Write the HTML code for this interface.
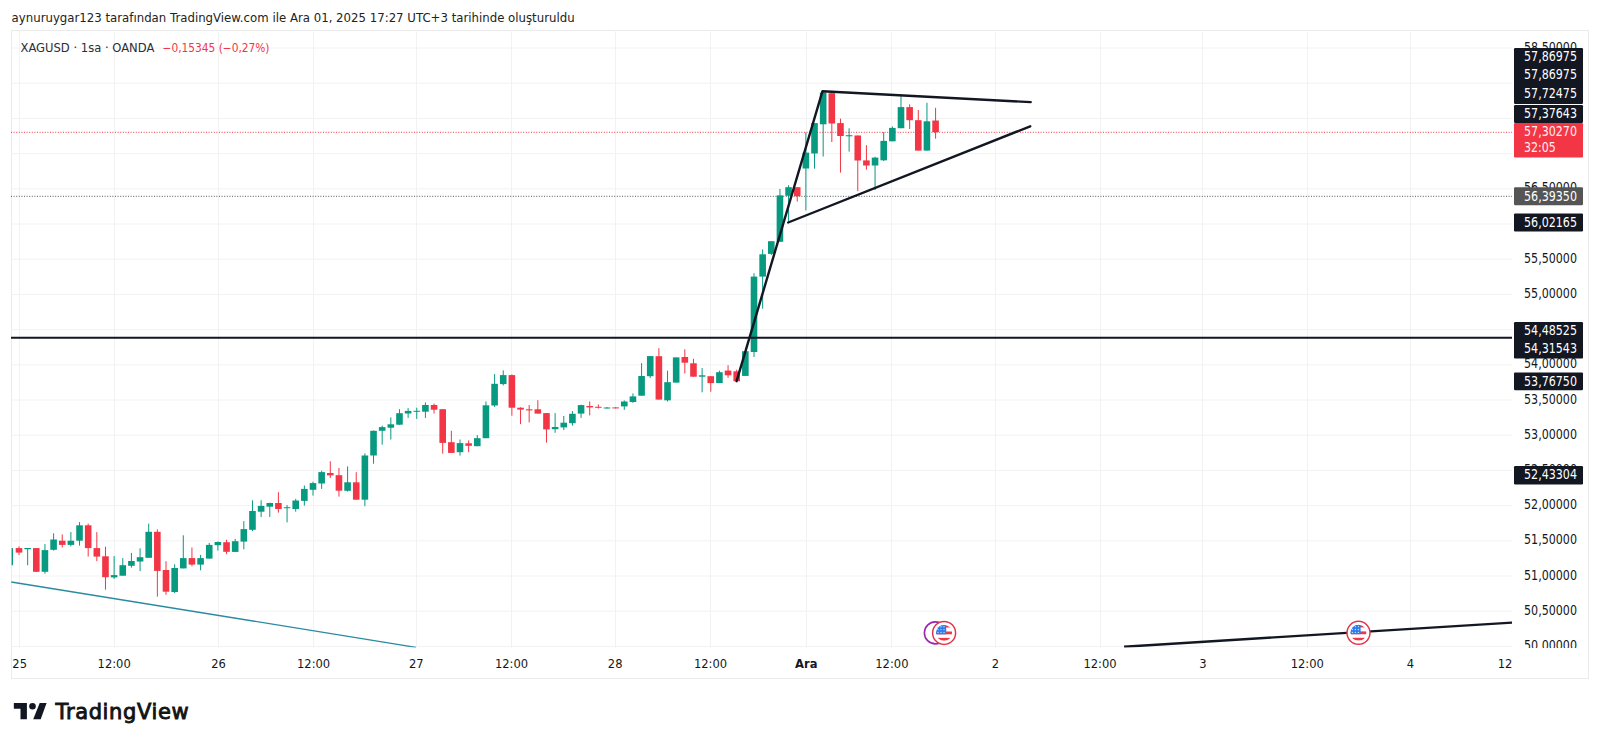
<!DOCTYPE html>
<html><head><meta charset="utf-8"><title>XAGUSD</title>
<style>
html,body{margin:0;padding:0;background:#ffffff;}
body{width:1600px;height:745px;overflow:hidden;position:relative;}
svg{position:absolute;left:0;top:0;}
text{font-family:"Liberation Sans",Arial,sans-serif;}
.hdr{font-family:"DejaVu Sans",sans-serif;font-size:11.8px;fill:#222222;}
.lg{font-family:"DejaVu Sans",sans-serif;font-size:11.6px;fill:#2a2e39;}
.lgr{font-family:"DejaVu Sans",sans-serif;font-size:11.6px;fill:#f23645;}
.pl{font-family:"DejaVu Sans Condensed","DejaVu Sans",sans-serif;font-size:13.4px;text-anchor:end;fill:#131722;}
.pll{font-family:"DejaVu Sans Condensed","DejaVu Sans",sans-serif;font-size:13.4px;text-anchor:start;}
.tl{font-family:"DejaVu Sans Condensed","DejaVu Sans",sans-serif;font-size:12.8px;text-anchor:middle;fill:#131722;}
.b{font-weight:bold;}
.logo{font-family:"DejaVu Sans",sans-serif;font-weight:normal;font-size:21px;fill:#131313;stroke:#131313;stroke-width:0.9px;}
</style></head>
<body>
<svg width="1600" height="745" viewBox="0 0 1600 745">
<text x="11.6" y="22" class="hdr" textLength="563" lengthAdjust="spacingAndGlyphs">aynuruygar123 tarafından TradingView.com ile Ara 01, 2025 17:27 UTC+3 tarihinde oluşturuldu</text>
<rect x="11.5" y="30.5" width="1577" height="648" fill="#ffffff" stroke="#ebebeb" stroke-width="1"/>
<g><rect x="11" y="645.95" width="1501" height="1" fill="#f2f2f2"/><rect x="11" y="610.75" width="1501" height="1" fill="#f2f2f2"/><rect x="11" y="575.55" width="1501" height="1" fill="#f2f2f2"/><rect x="11" y="540.35" width="1501" height="1" fill="#f2f2f2"/><rect x="11" y="505.15" width="1501" height="1" fill="#f2f2f2"/><rect x="11" y="469.95" width="1501" height="1" fill="#f2f2f2"/><rect x="11" y="434.75" width="1501" height="1" fill="#f2f2f2"/><rect x="11" y="399.55" width="1501" height="1" fill="#f2f2f2"/><rect x="11" y="364.35" width="1501" height="1" fill="#f2f2f2"/><rect x="11" y="329.15" width="1501" height="1" fill="#f2f2f2"/><rect x="11" y="293.95" width="1501" height="1" fill="#f2f2f2"/><rect x="11" y="258.75" width="1501" height="1" fill="#f2f2f2"/><rect x="11" y="223.55" width="1501" height="1" fill="#f2f2f2"/><rect x="11" y="188.35" width="1501" height="1" fill="#f2f2f2"/><rect x="11" y="153.15" width="1501" height="1" fill="#f2f2f2"/><rect x="11" y="117.95" width="1501" height="1" fill="#f2f2f2"/><rect x="11" y="82.75" width="1501" height="1" fill="#f2f2f2"/><rect x="11" y="47.55" width="1501" height="1" fill="#f2f2f2"/></g>
<g><rect x="19" y="30" width="1" height="617.5" fill="#f2f2f2"/><rect x="114" y="30" width="1" height="617.5" fill="#f2f2f2"/><rect x="218" y="30" width="1" height="617.5" fill="#f2f2f2"/><rect x="313" y="30" width="1" height="617.5" fill="#f2f2f2"/><rect x="416" y="30" width="1" height="617.5" fill="#f2f2f2"/><rect x="511" y="30" width="1" height="617.5" fill="#f2f2f2"/><rect x="615" y="30" width="1" height="617.5" fill="#f2f2f2"/><rect x="710" y="30" width="1" height="617.5" fill="#f2f2f2"/><rect x="806" y="30" width="1" height="617.5" fill="#f2f2f2"/><rect x="891" y="30" width="1" height="617.5" fill="#f2f2f2"/><rect x="995" y="30" width="1" height="617.5" fill="#f2f2f2"/><rect x="1100" y="30" width="1" height="617.5" fill="#f2f2f2"/><rect x="1202" y="30" width="1" height="617.5" fill="#f2f2f2"/><rect x="1307" y="30" width="1" height="617.5" fill="#f2f2f2"/><rect x="1410" y="30" width="1" height="617.5" fill="#f2f2f2"/></g>
<text x="20.5" y="52" class="lg" textLength="133.8" lengthAdjust="spacingAndGlyphs">XAGUSD · 1sa · OANDA</text>
<text x="162.5" y="52" class="lgr" textLength="107" lengthAdjust="spacingAndGlyphs">−0,15345 (−0,27%)</text>
<svg x="11" y="30" width="1501" height="617.5" viewBox="11 30 1501 617.5" overflow="hidden">
<line x1="11" y1="132.3" x2="1512" y2="132.3" stroke="#f23645" stroke-width="1" stroke-dasharray="1,1.6"/>
<line x1="11" y1="196.3" x2="1512" y2="196.3" stroke="#555555" stroke-width="1" stroke-dasharray="1,1.6"/>
<rect x="11.6" y="548.1" width="1.4" height="17.1" fill="#089981"/>
<rect x="18.5" y="546.4" width="1" height="8.5" fill="#f23645"/><rect x="15.7" y="548.1" width="6.6" height="4.5" fill="#f23645"/>
<rect x="27.15" y="548" width="1" height="17.2" fill="#089981"/><rect x="24.35" y="548" width="6.6" height="1.2" fill="#089981"/>
<rect x="35.79" y="548" width="1" height="24" fill="#f23645"/><rect x="32.99" y="548.1" width="6.6" height="23.7" fill="#f23645"/>
<rect x="44.44" y="544.1" width="1" height="29.6" fill="#089981"/><rect x="41.64" y="550.1" width="6.6" height="21.7" fill="#089981"/>
<rect x="53.09" y="533.3" width="1" height="17.3" fill="#089981"/><rect x="50.29" y="539.5" width="6.6" height="10.3" fill="#089981"/>
<rect x="61.73" y="534.4" width="1" height="13.1" fill="#f23645"/><rect x="58.94" y="540.7" width="6.6" height="4.2" fill="#f23645"/>
<rect x="70.38" y="532.1" width="1" height="14.3" fill="#089981"/><rect x="67.58" y="540.7" width="6.6" height="4.2" fill="#089981"/>
<rect x="79.03" y="522.1" width="1" height="23.5" fill="#089981"/><rect x="76.23" y="525.3" width="6.6" height="15.4" fill="#089981"/>
<rect x="87.68" y="523.6" width="1" height="33" fill="#f23645"/><rect x="84.88" y="525.3" width="6.6" height="22.8" fill="#f23645"/>
<rect x="96.32" y="532.1" width="1" height="29.1" fill="#f23645"/><rect x="93.52" y="548.1" width="6.6" height="8.5" fill="#f23645"/>
<rect x="104.97" y="546.7" width="1" height="43" fill="#f23645"/><rect x="102.17" y="556.3" width="6.6" height="20.9" fill="#f23645"/>
<rect x="113.62" y="556.1" width="1" height="22.8" fill="#089981"/><rect x="110.82" y="575.1" width="6.6" height="2.3" fill="#089981"/>
<rect x="122.26" y="558.1" width="1" height="17.6" fill="#089981"/><rect x="119.46" y="565.2" width="6.6" height="10.5" fill="#089981"/>
<rect x="130.91" y="552.9" width="1" height="14.8" fill="#089981"/><rect x="128.11" y="561" width="6.6" height="4.8" fill="#089981"/>
<rect x="139.56" y="548.3" width="1" height="22.8" fill="#089981"/><rect x="136.76" y="557.2" width="6.6" height="4.3" fill="#089981"/>
<rect x="148.21" y="523.6" width="1" height="34.2" fill="#089981"/><rect x="145.41" y="531.8" width="6.6" height="26" fill="#089981"/>
<rect x="156.85" y="529.3" width="1" height="67.3" fill="#f23645"/><rect x="154.05" y="531.8" width="6.6" height="39.1" fill="#f23645"/>
<rect x="165.5" y="561.2" width="1" height="33.6" fill="#f23645"/><rect x="162.7" y="570" width="6.6" height="21.7" fill="#f23645"/>
<rect x="174.15" y="564.3" width="1" height="28.8" fill="#089981"/><rect x="171.35" y="568" width="6.6" height="24" fill="#089981"/>
<rect x="182.79" y="535.3" width="1" height="33.1" fill="#089981"/><rect x="179.99" y="558.1" width="6.6" height="10.3" fill="#089981"/>
<rect x="191.44" y="547.5" width="1" height="18.8" fill="#f23645"/><rect x="188.64" y="558.1" width="6.6" height="6.5" fill="#f23645"/>
<rect x="200.09" y="554.9" width="1" height="15.4" fill="#089981"/><rect x="197.29" y="558.1" width="6.6" height="6.5" fill="#089981"/>
<rect x="208.73" y="543" width="1" height="15.6" fill="#089981"/><rect x="205.93" y="544.9" width="6.6" height="13.7" fill="#089981"/>
<rect x="217.38" y="541.5" width="1" height="9.1" fill="#089981"/><rect x="214.58" y="542" width="6.6" height="3.2" fill="#089981"/>
<rect x="226.03" y="539.7" width="1" height="14.5" fill="#f23645"/><rect x="223.23" y="542.2" width="6.6" height="9.6" fill="#f23645"/>
<rect x="234.68" y="538.9" width="1" height="13" fill="#089981"/><rect x="231.88" y="541.2" width="6.6" height="10.7" fill="#089981"/>
<rect x="243.32" y="521.1" width="1" height="28.2" fill="#089981"/><rect x="240.52" y="529.1" width="6.6" height="12.5" fill="#089981"/>
<rect x="251.97" y="500.3" width="1" height="30.8" fill="#089981"/><rect x="249.17" y="511" width="6.6" height="18.8" fill="#089981"/>
<rect x="260.62" y="500.3" width="1" height="16.7" fill="#089981"/><rect x="257.82" y="505.9" width="6.6" height="5.8" fill="#089981"/>
<rect x="269.26" y="502.7" width="1" height="14.3" fill="#089981"/><rect x="266.46" y="503" width="6.6" height="3.7" fill="#089981"/>
<rect x="277.91" y="492.2" width="1" height="20.4" fill="#f23645"/><rect x="275.11" y="503" width="6.6" height="6" fill="#f23645"/>
<rect x="286.56" y="505" width="1" height="17.4" fill="#089981"/><rect x="283.76" y="507.2" width="6.6" height="1" fill="#089981"/>
<rect x="295.2" y="498.9" width="1" height="12.8" fill="#089981"/><rect x="292.4" y="500.5" width="6.6" height="8.5" fill="#089981"/>
<rect x="303.85" y="485.5" width="1" height="20.1" fill="#089981"/><rect x="301.05" y="488.9" width="6.6" height="12" fill="#089981"/>
<rect x="312.5" y="481.7" width="1" height="13.9" fill="#089981"/><rect x="309.7" y="483.1" width="6.6" height="6.7" fill="#089981"/>
<rect x="321.14" y="470.7" width="1" height="18.2" fill="#089981"/><rect x="318.34" y="472.1" width="6.6" height="11.4" fill="#089981"/>
<rect x="329.79" y="461.3" width="1" height="16.8" fill="#f23645"/><rect x="326.99" y="473" width="6.6" height="2.4" fill="#f23645"/>
<rect x="338.44" y="467.9" width="1" height="28.7" fill="#f23645"/><rect x="335.64" y="475.2" width="6.6" height="15.5" fill="#f23645"/>
<rect x="347.09" y="466.4" width="1" height="25.1" fill="#089981"/><rect x="344.29" y="482.3" width="6.6" height="8.5" fill="#089981"/>
<rect x="355.73" y="472.2" width="1" height="27.5" fill="#f23645"/><rect x="352.93" y="482.3" width="6.6" height="17.4" fill="#f23645"/>
<rect x="364.38" y="453.4" width="1" height="52.8" fill="#089981"/><rect x="361.58" y="455.5" width="6.6" height="44.2" fill="#089981"/>
<rect x="373.03" y="430.5" width="1" height="33.2" fill="#089981"/><rect x="370.23" y="430.8" width="6.6" height="24.7" fill="#089981"/>
<rect x="381.67" y="425.6" width="1" height="19.1" fill="#089981"/><rect x="378.87" y="427.1" width="6.6" height="3.7" fill="#089981"/>
<rect x="390.32" y="417.4" width="1" height="22.1" fill="#089981"/><rect x="387.52" y="424.3" width="6.6" height="3.4" fill="#089981"/>
<rect x="398.97" y="409.2" width="1" height="15.5" fill="#089981"/><rect x="396.17" y="413.2" width="6.6" height="11.5" fill="#089981"/>
<rect x="407.62" y="408.1" width="1" height="9.8" fill="#089981"/><rect x="404.81" y="410.9" width="6.6" height="2.6" fill="#089981"/>
<rect x="416.26" y="407.7" width="1" height="11.2" fill="#089981"/><rect x="413.46" y="410.8" width="6.6" height="1" fill="#089981"/>
<rect x="424.91" y="402.4" width="1" height="15.5" fill="#089981"/><rect x="422.11" y="405" width="6.6" height="6.7" fill="#089981"/>
<rect x="433.56" y="403.5" width="1" height="10" fill="#f23645"/><rect x="430.76" y="405" width="6.6" height="4.7" fill="#f23645"/>
<rect x="442.2" y="409.2" width="1" height="44.5" fill="#f23645"/><rect x="439.4" y="409.2" width="6.6" height="33.7" fill="#f23645"/>
<rect x="450.85" y="430.8" width="1" height="22.1" fill="#f23645"/><rect x="448.05" y="442.2" width="6.6" height="10.7" fill="#f23645"/>
<rect x="459.5" y="439.5" width="1" height="16.1" fill="#089981"/><rect x="456.7" y="443.1" width="6.6" height="9.1" fill="#089981"/>
<rect x="468.14" y="440.4" width="1" height="11.8" fill="#f23645"/><rect x="465.34" y="443.3" width="6.6" height="2.5" fill="#f23645"/>
<rect x="476.79" y="435.1" width="1" height="11.1" fill="#089981"/><rect x="473.99" y="438.2" width="6.6" height="8" fill="#089981"/>
<rect x="485.44" y="401.5" width="1" height="36.7" fill="#089981"/><rect x="482.64" y="405.3" width="6.6" height="32.9" fill="#089981"/>
<rect x="494.09" y="374.1" width="1" height="32.8" fill="#089981"/><rect x="491.29" y="383.8" width="6.6" height="21.7" fill="#089981"/>
<rect x="502.73" y="370.4" width="1" height="15" fill="#089981"/><rect x="499.93" y="375.1" width="6.6" height="9" fill="#089981"/>
<rect x="511.38" y="374.4" width="1" height="41.3" fill="#f23645"/><rect x="508.58" y="375.1" width="6.6" height="32.6" fill="#f23645"/>
<rect x="520.03" y="407.3" width="1" height="16.8" fill="#f23645"/><rect x="517.23" y="407.7" width="6.6" height="1.9" fill="#f23645"/>
<rect x="528.67" y="405" width="1" height="17.4" fill="#f23645"/><rect x="525.87" y="409.3" width="6.6" height="1.1" fill="#f23645"/>
<rect x="537.32" y="400.2" width="1" height="13.4" fill="#f23645"/><rect x="534.52" y="409.3" width="6.6" height="4.3" fill="#f23645"/>
<rect x="545.97" y="413.1" width="1" height="29.5" fill="#f23645"/><rect x="543.17" y="413.1" width="6.6" height="16.3" fill="#f23645"/>
<rect x="554.61" y="413.1" width="1" height="19.7" fill="#089981"/><rect x="551.81" y="427" width="6.6" height="2.2" fill="#089981"/>
<rect x="563.26" y="416" width="1" height="14.1" fill="#089981"/><rect x="560.46" y="422.7" width="6.6" height="4.7" fill="#089981"/>
<rect x="571.91" y="411.1" width="1" height="14.5" fill="#089981"/><rect x="569.11" y="413.8" width="6.6" height="9.4" fill="#089981"/>
<rect x="580.56" y="404.7" width="1" height="13.2" fill="#089981"/><rect x="577.76" y="405.1" width="6.6" height="8.5" fill="#089981"/>
<rect x="589.2" y="401.5" width="1" height="13.9" fill="#f23645"/><rect x="586.4" y="406" width="6.6" height="1.4" fill="#f23645"/>
<rect x="597.85" y="404.4" width="1" height="4.1" fill="#f23645"/><rect x="595.05" y="406.8" width="6.6" height="1" fill="#f23645"/>
<rect x="606.5" y="407" width="1" height="1.5" fill="#089981"/><rect x="603.7" y="407.5" width="6.6" height="1" fill="#089981"/>
<rect x="615.14" y="407.2" width="1" height="1.2" fill="#f23645"/><rect x="612.34" y="407.4" width="6.6" height="1" fill="#f23645"/>
<rect x="623.79" y="400.4" width="1" height="9.4" fill="#089981"/><rect x="620.99" y="401.5" width="6.6" height="4.9" fill="#089981"/>
<rect x="632.44" y="393.4" width="1" height="9.4" fill="#089981"/><rect x="629.64" y="396.4" width="6.6" height="5.6" fill="#089981"/>
<rect x="641.08" y="363.1" width="1" height="32.6" fill="#089981"/><rect x="638.28" y="376" width="6.6" height="19.7" fill="#089981"/>
<rect x="649.73" y="356.1" width="1" height="21.8" fill="#089981"/><rect x="646.93" y="356.1" width="6.6" height="20.1" fill="#089981"/>
<rect x="658.38" y="348.2" width="1" height="51.4" fill="#f23645"/><rect x="655.58" y="356.2" width="6.6" height="43.4" fill="#f23645"/>
<rect x="667.02" y="370.6" width="1" height="30.9" fill="#089981"/><rect x="664.23" y="382.2" width="6.6" height="18.1" fill="#089981"/>
<rect x="675.67" y="357.4" width="1" height="25.2" fill="#089981"/><rect x="672.87" y="357.4" width="6.6" height="25.2" fill="#089981"/>
<rect x="684.32" y="349.3" width="1" height="24.2" fill="#f23645"/><rect x="681.52" y="357" width="6.6" height="5.7" fill="#f23645"/>
<rect x="692.97" y="358.8" width="1" height="17.9" fill="#f23645"/><rect x="690.17" y="363.3" width="6.6" height="13.4" fill="#f23645"/>
<rect x="701.61" y="368.1" width="1" height="24.2" fill="#089981"/><rect x="698.81" y="375.3" width="6.6" height="1.4" fill="#089981"/>
<rect x="710.26" y="376.2" width="1" height="15.5" fill="#f23645"/><rect x="707.46" y="376.2" width="6.6" height="6.9" fill="#f23645"/>
<rect x="718.91" y="370.6" width="1" height="12.5" fill="#089981"/><rect x="716.11" y="372.2" width="6.6" height="10.9" fill="#089981"/>
<rect x="727.55" y="365.2" width="1" height="12.6" fill="#f23645"/><rect x="724.75" y="370.6" width="6.6" height="4.7" fill="#f23645"/>
<rect x="736.2" y="369.7" width="1" height="11.6" fill="#f23645"/><rect x="733.4" y="371.3" width="6.6" height="9.9" fill="#f23645"/>
<rect x="744.85" y="351.2" width="1" height="24.7" fill="#089981"/><rect x="742.05" y="351.2" width="6.6" height="24.7" fill="#089981"/>
<rect x="753.5" y="273.2" width="1" height="83.8" fill="#089981"/><rect x="750.7" y="276.6" width="6.6" height="75.4" fill="#089981"/>
<rect x="762.14" y="249.4" width="1" height="59.3" fill="#089981"/><rect x="759.34" y="254.3" width="6.6" height="22.3" fill="#089981"/>
<rect x="770.79" y="241.2" width="1" height="13.8" fill="#089981"/><rect x="767.99" y="241.2" width="6.6" height="12.7" fill="#089981"/>
<rect x="779.44" y="189" width="1" height="52.8" fill="#089981"/><rect x="776.64" y="195.4" width="6.6" height="46.4" fill="#089981"/>
<rect x="788.08" y="185.2" width="1" height="37.2" fill="#089981"/><rect x="785.28" y="187.2" width="6.6" height="8.6" fill="#089981"/>
<rect x="796.73" y="187.2" width="1" height="14.4" fill="#f23645"/><rect x="793.93" y="187.2" width="6.6" height="9" fill="#f23645"/>
<rect x="805.38" y="132.3" width="1" height="78.1" fill="#089981"/><rect x="802.58" y="152.6" width="6.6" height="15.9" fill="#089981"/>
<rect x="814.02" y="123.1" width="1" height="45.5" fill="#089981"/><rect x="811.22" y="123.1" width="6.6" height="30.4" fill="#089981"/>
<rect x="822.67" y="90.5" width="1" height="66" fill="#089981"/><rect x="819.87" y="92.6" width="6.6" height="31.7" fill="#089981"/>
<rect x="831.32" y="92.9" width="1" height="49.1" fill="#f23645"/><rect x="828.52" y="93.2" width="6.6" height="30.3" fill="#f23645"/>
<rect x="839.97" y="118.6" width="1" height="54" fill="#f23645"/><rect x="837.17" y="123.1" width="6.6" height="12.9" fill="#f23645"/>
<rect x="848.61" y="128.3" width="1" height="23.3" fill="#089981"/><rect x="845.81" y="135.2" width="6.6" height="1.1" fill="#089981"/>
<rect x="857.26" y="135.5" width="1" height="55.6" fill="#f23645"/><rect x="854.46" y="135.5" width="6.6" height="25" fill="#f23645"/>
<rect x="865.91" y="145.2" width="1" height="24.5" fill="#f23645"/><rect x="863.11" y="160.4" width="6.6" height="5.1" fill="#f23645"/>
<rect x="874.55" y="156.8" width="1" height="33.2" fill="#089981"/><rect x="871.75" y="157.6" width="6.6" height="7.9" fill="#089981"/>
<rect x="883.2" y="132.1" width="1" height="28.9" fill="#089981"/><rect x="880.4" y="140.9" width="6.6" height="19.4" fill="#089981"/>
<rect x="891.85" y="126.4" width="1" height="14.9" fill="#089981"/><rect x="889.05" y="127.9" width="6.6" height="13.4" fill="#089981"/>
<rect x="900.49" y="95.5" width="1" height="32.7" fill="#089981"/><rect x="897.69" y="107.1" width="6.6" height="21.1" fill="#089981"/>
<rect x="909.14" y="104.3" width="1" height="24.7" fill="#f23645"/><rect x="906.34" y="107.1" width="6.6" height="13.1" fill="#f23645"/>
<rect x="917.79" y="110" width="1" height="40.6" fill="#f23645"/><rect x="914.99" y="120.2" width="6.6" height="30.4" fill="#f23645"/>
<rect x="926.44" y="102.8" width="1" height="47.8" fill="#089981"/><rect x="923.64" y="121.3" width="6.6" height="29.3" fill="#089981"/>
<rect x="935.08" y="107.8" width="1" height="30.9" fill="#f23645"/><rect x="932.28" y="120.5" width="6.6" height="11.7" fill="#f23645"/>
<line x1="11" y1="337.7" x2="1512" y2="337.7" stroke="#131722" stroke-width="2.1"/>
<polyline points="736.6,381.2 822.5,91.2 1030.7,102.1" fill="none" stroke="#131722" stroke-width="2.4" stroke-linejoin="round" stroke-linecap="round"/>
<line x1="788.2" y1="222.5" x2="1030.2" y2="126.3" stroke="#131722" stroke-width="2.4" stroke-linecap="round"/>
<line x1="11.25" y1="582" x2="415.9" y2="647.3" stroke="#2a8aa0" stroke-width="1.3"/>
<line x1="1124.1" y1="646.7" x2="1520" y2="622.1" stroke="#131722" stroke-width="2.4"/>
<circle cx="935.4" cy="632.9" r="11" fill="#ffffff" stroke="#9c27b0" stroke-width="1.6"/>
<g transform="translate(944.1,632.9)">
<circle r="11.5" fill="#ffffff" stroke="#e0364a" stroke-width="1.5"/>
<clipPath id="fc944"><circle r="8"/></clipPath>
<g clip-path="url(#fc944)">
<rect x="-8" y="-8" width="16" height="16" fill="#ffffff"/>
<rect x="-8" y="-1.4" width="16" height="2.8" fill="#f23645"/>
<rect x="-8" y="5.0" width="16" height="2.7" fill="#f23645"/>
<rect x="-8" y="-7.5" width="16" height="2.1" fill="#f23645"/>
<rect x="-8.5" y="-8.5" width="10.6" height="9.9" fill="#2f7be9"/>
<g fill="#bfe4ff"><circle cx="-6.1" cy="-6.2" r="0.7"/><circle cx="-3.1" cy="-6.2" r="0.7"/><circle cx="-0.1" cy="-6.2" r="0.7"/>
<circle cx="-6.1" cy="-3.3" r="0.7"/><circle cx="-3.1" cy="-3.3" r="0.7"/><circle cx="-0.1" cy="-3.3" r="0.7"/>
<circle cx="-6.1" cy="-0.4" r="0.7"/><circle cx="-3.1" cy="-0.4" r="0.7"/><circle cx="-0.1" cy="-0.4" r="0.7"/></g>
</g></g>
<g transform="translate(1358.5,632.8)">
<circle r="11.5" fill="#ffffff" stroke="#e0364a" stroke-width="1.5"/>
<clipPath id="fc1358"><circle r="8"/></clipPath>
<g clip-path="url(#fc1358)">
<rect x="-8" y="-8" width="16" height="16" fill="#ffffff"/>
<rect x="-8" y="-1.4" width="16" height="2.8" fill="#f23645"/>
<rect x="-8" y="5.0" width="16" height="2.7" fill="#f23645"/>
<rect x="-8" y="-7.5" width="16" height="2.1" fill="#f23645"/>
<rect x="-8.5" y="-8.5" width="10.6" height="9.9" fill="#2f7be9"/>
<g fill="#bfe4ff"><circle cx="-6.1" cy="-6.2" r="0.7"/><circle cx="-3.1" cy="-6.2" r="0.7"/><circle cx="-0.1" cy="-6.2" r="0.7"/>
<circle cx="-6.1" cy="-3.3" r="0.7"/><circle cx="-3.1" cy="-3.3" r="0.7"/><circle cx="-0.1" cy="-3.3" r="0.7"/>
<circle cx="-6.1" cy="-0.4" r="0.7"/><circle cx="-3.1" cy="-0.4" r="0.7"/><circle cx="-0.1" cy="-0.4" r="0.7"/></g>
</g></g>
</svg>
<svg x="1512" y="30" width="76" height="618" viewBox="1512 30 76 618" overflow="hidden"><g><text x="1577" y="650.05" class="pl" textLength="53" lengthAdjust="spacingAndGlyphs">50,00000</text><text x="1577" y="614.85" class="pl" textLength="53" lengthAdjust="spacingAndGlyphs">50,50000</text><text x="1577" y="579.65" class="pl" textLength="53" lengthAdjust="spacingAndGlyphs">51,00000</text><text x="1577" y="544.45" class="pl" textLength="53" lengthAdjust="spacingAndGlyphs">51,50000</text><text x="1577" y="509.25" class="pl" textLength="53" lengthAdjust="spacingAndGlyphs">52,00000</text><text x="1577" y="474.05" class="pl" textLength="53" lengthAdjust="spacingAndGlyphs">52,50000</text><text x="1577" y="438.85" class="pl" textLength="53" lengthAdjust="spacingAndGlyphs">53,00000</text><text x="1577" y="403.65" class="pl" textLength="53" lengthAdjust="spacingAndGlyphs">53,50000</text><text x="1577" y="368.45" class="pl" textLength="53" lengthAdjust="spacingAndGlyphs">54,00000</text><text x="1577" y="298.05" class="pl" textLength="53" lengthAdjust="spacingAndGlyphs">55,00000</text><text x="1577" y="262.85" class="pl" textLength="53" lengthAdjust="spacingAndGlyphs">55,50000</text><text x="1577" y="192.45" class="pl" textLength="53" lengthAdjust="spacingAndGlyphs">56,50000</text><text x="1577" y="51.65" class="pl" textLength="53" lengthAdjust="spacingAndGlyphs">58,50000</text></g></svg>
<g><rect x="1514" y="48" width="69" height="56" rx="1.2" fill="#131722"/><text x="1577" y="60.6" class="pl" textLength="53" lengthAdjust="spacingAndGlyphs" style="fill:#ffffff">57,86975</text><text x="1577" y="79.2" class="pl" textLength="53" lengthAdjust="spacingAndGlyphs" style="fill:#ffffff">57,86975</text><text x="1577" y="97.6" class="pl" textLength="53" lengthAdjust="spacingAndGlyphs" style="fill:#ffffff">57,72475</text><rect x="1514" y="105" width="69" height="18" rx="1.2" fill="#131722"/><text x="1577" y="117.6" class="pl" textLength="53" lengthAdjust="spacingAndGlyphs" style="fill:#ffffff">57,37643</text><rect x="1514" y="123" width="69" height="34.5" rx="1.2" fill="#f23645"/><text x="1577" y="136.3" class="pl" textLength="53" lengthAdjust="spacingAndGlyphs" style="fill:#ffeef0">57,30270</text><text x="1524" y="151.8" class="pll" textLength="31.8" lengthAdjust="spacingAndGlyphs" style="fill:#ffeef0">32:05</text><rect x="1514" y="187.2" width="69" height="18.1" rx="1.2" fill="#555555"/><text x="1577" y="200.5" class="pl" textLength="53" lengthAdjust="spacingAndGlyphs" style="fill:#ffffff">56,39350</text><rect x="1514" y="213.4" width="69" height="18.1" rx="1.2" fill="#131722"/><text x="1577" y="226.6" class="pl" textLength="53" lengthAdjust="spacingAndGlyphs" style="fill:#ffffff">56,02165</text><rect x="1514" y="322" width="69" height="36.5" rx="1.2" fill="#131722"/><text x="1577" y="334.5" class="pl" textLength="53" lengthAdjust="spacingAndGlyphs" style="fill:#ffffff">54,48525</text><text x="1577" y="353" class="pl" textLength="53" lengthAdjust="spacingAndGlyphs" style="fill:#ffffff">54,31543</text><rect x="1514" y="372.4" width="69" height="17.9" rx="1.2" fill="#131722"/><text x="1577" y="385.5" class="pl" textLength="53" lengthAdjust="spacingAndGlyphs" style="fill:#ffffff">53,76750</text><rect x="1514" y="466" width="69" height="18.5" rx="1.2" fill="#131722"/><text x="1577" y="479.4" class="pl" textLength="53" lengthAdjust="spacingAndGlyphs" style="fill:#ffffff">52,43304</text></g>
<g><text x="19.7" y="667.5" class="tl">25</text><text x="114.2" y="667.5" class="tl">12:00</text><text x="218.6" y="667.5" class="tl">26</text><text x="313.6" y="667.5" class="tl">12:00</text><text x="416.3" y="667.5" class="tl">27</text><text x="511.5" y="667.5" class="tl">12:00</text><text x="615.2" y="667.5" class="tl">28</text><text x="710.5" y="667.5" class="tl">12:00</text><text x="806.3" y="667.5" class="tl b">Ara</text><text x="891.9" y="667.5" class="tl">12:00</text><text x="995.5" y="667.5" class="tl">2</text><text x="1100" y="667.5" class="tl">12:00</text><text x="1202.9" y="667.5" class="tl">3</text><text x="1307.3" y="667.5" class="tl">12:00</text><text x="1410.4" y="667.5" class="tl">4</text><text x="1505" y="667.5" class="tl">12</text></g>
<g fill="#131722">
<path d="M13.84 702.9 H26.9 V719.3 H20.5 V708.8 H13.84 Z"/>
<circle cx="32.5" cy="706.2" r="3.3"/>
<path d="M39.7 702.9 H46.6 L40.7 719.3 H33.2 Z"/>
</g>
<text x="55.6" y="719.4" class="logo" textLength="133" lengthAdjust="spacing">TradingView</text>
</svg>
</body></html>
